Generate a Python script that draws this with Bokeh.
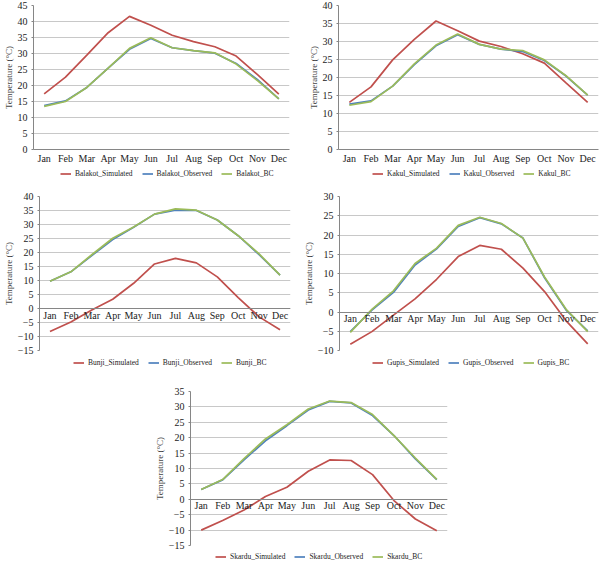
from bokeh.plotting import figure
from bokeh.models import Range1d, FactorRange, SingleIntervalTicker, Legend, LegendItem, Spacer
from bokeh.layouts import column, row
from bokeh.embed import file_html
from bokeh.resources import INLINE

months = ["Jan", "Feb", "Mar", "Apr", "May", "Jun", "Jul", "Aug", "Sep", "Oct", "Nov", "Dec"]

balakot_sim = [17.4, 22.6, 29.5, 36.5, 41.6, 38.8, 35.7, 33.7, 32.1, 29.2, 23.4, 17.3]
balakot_obs = [13.7, 15.2, 19.4, 25.4, 31.3, 34.7, 31.8, 30.9, 30.1, 26.9, 21.8, 15.8]
balakot_bc = [13.5, 15.0, 19.4, 25.4, 31.6, 34.9, 31.8, 30.9, 30.2, 26.7, 21.5, 15.8]

kakul_sim = [13.1, 17.4, 24.9, 30.6, 35.7, 33.0, 30.1, 28.6, 26.6, 24.0, 18.5, 13.1]
kakul_obs = [12.6, 13.5, 17.6, 23.6, 28.8, 31.9, 29.2, 27.9, 27.2, 24.7, 20.4, 15.1]
kakul_bc = [12.3, 13.3, 17.6, 23.8, 29.0, 32.1, 29.2, 27.9, 27.5, 24.9, 20.5, 15.1]

bunji_sim = [-8.2, -4.8, -0.5, 3.3, 9.0, 15.9, 17.9, 16.3, 11.3, 3.9, -3.0, -7.6]
bunji_obs = [9.7, 13.1, 18.9, 24.6, 29.0, 33.7, 35.1, 35.0, 31.6, 26.0, 19.2, 11.9]
bunji_bc = [9.7, 13.1, 19.2, 25.1, 29.1, 33.7, 35.6, 35.1, 31.6, 26.0, 19.5, 11.9]

gupis_sim = [-8.4, -5.1, -0.8, 3.4, 8.5, 14.4, 17.3, 16.3, 11.4, 5.3, -2.3, -8.3]
gupis_obs = [-5.1, 0.5, 5.1, 12.2, 16.4, 22.2, 24.5, 22.9, 19.2, 8.9, 0.5, -4.9]
gupis_bc = [-5.3, 0.7, 5.5, 12.6, 16.6, 22.5, 24.6, 23.0, 19.2, 9.1, 0.7, -5.1]

skardu_sim = [-10.0, -6.9, -3.5, 0.9, 3.9, 9.1, 12.8, 12.6, 8.0, -0.4, -6.4, -10.2]
skardu_obs = [3.2, 6.3, 12.8, 19.0, 23.9, 29.0, 31.8, 31.3, 27.2, 20.7, 13.1, 6.4]
skardu_bc = [3.2, 6.4, 13.2, 19.6, 24.2, 29.3, 31.9, 31.4, 27.5, 20.7, 13.4, 6.5]

series_suffixes = ["Simulated", "Observed", "BC"]

RED = "#C0504D"
BLUE = "#4F81BD"
GREEN = "#9BBB59"
COLORS = [RED, BLUE, GREEN]
FONT = "Liberation Serif"
GRID = "#C8C8C8"
AXIS = "#868686"


def chart(sim, obs, bc, ymin, ymax, w, h, bl, br, bt, bb, zero_axis):
    p = figure(width=w, height=h, x_range=FactorRange(factors=months),
               y_range=Range1d(ymin, ymax), output_backend="svg",
               toolbar_location=None, min_border_left=bl, min_border_right=br,
               min_border_top=bt, min_border_bottom=bb)
    p.outline_line_color = None
    p.xgrid.grid_line_color = None
    p.ygrid.grid_line_color = GRID
    p.ygrid.grid_line_width = 1

    p.yaxis.ticker = SingleIntervalTicker(interval=5)
    p.yaxis.axis_label = "Temperature (\u00b0C)"
    p.yaxis.axis_label_text_font = FONT
    p.yaxis.axis_label_text_font_size = "9px"
    p.yaxis.axis_label_text_font_style = "normal"
    p.yaxis.axis_label_standoff = 1
    p.yaxis.major_label_text_font = FONT
    p.yaxis.major_label_text_font_size = "10px"
    p.yaxis.major_label_text_color = "#222222"
    p.yaxis.major_label_standoff = 2
    p.yaxis.axis_line_color = AXIS
    p.yaxis.major_tick_line_color = AXIS
    p.yaxis.major_tick_out = 2
    p.yaxis.major_tick_in = 0
    p.yaxis.minor_tick_line_color = None

    p.xaxis.major_label_text_font = FONT
    p.xaxis.major_label_text_font_size = "10px"
    p.xaxis.major_label_text_color = "#222222"
    p.xaxis.major_label_standoff = 3
    p.xaxis.axis_line_color = AXIS
    p.xaxis.major_tick_line_color = None
    p.xaxis.major_tick_out = 0
    p.xaxis.major_tick_in = 0
    p.xaxis.minor_tick_line_color = None
    if zero_axis:
        p.xaxis.fixed_location = 0
        p.xaxis.major_label_standoff = 1

    for vals, col in zip([sim, obs, bc], COLORS):
        p.line(months, vals, line_color=col, line_width=1.7)
    return p


def legend_strip(name, sim, obs, bc, w, h, bl, br, x0):
    # legend proxies: the same series drawn far outside this strip's visible range
    q = figure(width=w, height=h, x_range=Range1d(0, 1), y_range=Range1d(1000, 1001),
               x_axis_location=None, y_axis_location=None, output_backend="svg",
               toolbar_location=None, min_border_left=bl, min_border_right=br,
               min_border_top=0, min_border_bottom=0)
    q.outline_line_color = None
    q.xgrid.grid_line_color = None
    q.ygrid.grid_line_color = None
    items = []
    for suf, vals, col in zip(series_suffixes, [sim, obs, bc], COLORS):
        r = q.line(list(range(len(vals))), vals, line_color=col, line_width=1.7)
        items.append(LegendItem(label=f"{name}_{suf}", renderers=[r]))
    legend = Legend(items=items, orientation="horizontal", location=(x0 - bl, (h - 9) / 2))
    legend.label_text_font = FONT
    legend.label_text_font_size = "7.5px"
    legend.label_text_color = "#222222"
    legend.label_height = 9
    legend.glyph_height = 9
    legend.glyph_width = 11
    legend.label_standoff = 4
    legend.spacing = 9
    legend.padding = 0
    legend.margin = 0
    legend.border_line_color = None
    legend.background_fill_alpha = 0
    q.add_layout(legend)
    return q


p1 = chart(balakot_sim, balakot_obs, balakot_bc, 0, 45, 300, 166, 29, 11, 5, 16, False)
l1 = legend_strip("Balakot", balakot_sim, balakot_obs, balakot_bc, 300, 14, 29, 11, 56)
p2 = chart(kakul_sim, kakul_obs, kakul_bc, 0, 40, 300, 166, 38, 2, 5, 16, False)
l2 = legend_strip("Kakul", kakul_sim, kakul_obs, kakul_bc, 300, 14, 38, 2, 72)

p3 = chart(bunji_sim, bunji_obs, bunji_bc, -15, 40, 300, 175, 31, 10, 16, 5, True)
l3 = legend_strip("Bunji", bunji_sim, bunji_obs, bunji_bc, 300, 14, 31, 10, 65)
p4 = chart(gupis_sim, gupis_obs, gupis_bc, -10, 30, 300, 175, 39, 2, 16, 5, True)
l4 = legend_strip("Gupis", gupis_sim, gupis_obs, gupis_bc, 300, 14, 39, 2, 72)

p5 = chart(skardu_sim, skardu_obs, skardu_bc, -15, 35, 300, 181, 40, 3, 22, 5, True)
l5 = legend_strip("Skardu", skardu_sim, skardu_obs, skardu_bc, 300, 12, 40, 3, 65)

layout = column(
    row(column(p1, l1), column(p2, l2)),
    row(column(p3, l3), column(p4, l4)),
    row(Spacer(width=150, height=193), column(p5, l5)),
)

open("out.html", "w").write(file_html(layout, INLINE))
